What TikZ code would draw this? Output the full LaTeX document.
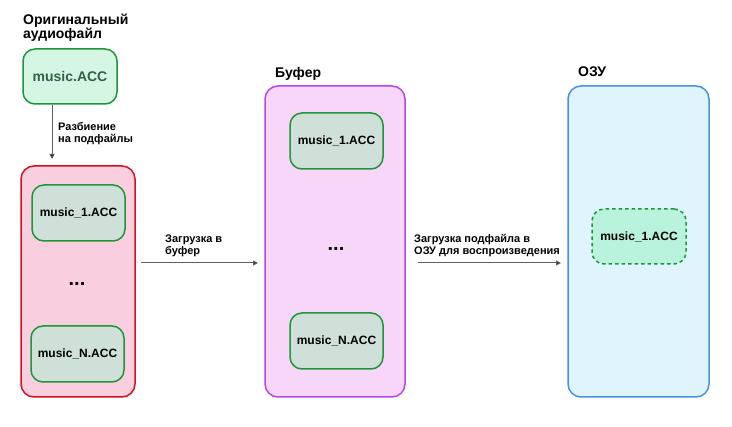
\documentclass[tikz,border=0pt]{standalone}
\usepackage{fontspec}
\setmainfont{Liberation Sans}
\usetikzlibrary{arrows.meta}
\definecolor{gstroke}{RGB}{30,150,55}
\definecolor{gfill}{RGB}{213,246,226}
\definecolor{gtext}{RGB}{55,95,70}
\definecolor{ifill}{RGB}{206,224,215}
\definecolor{rstroke}{RGB}{208,18,32}
\definecolor{rfill}{RGB}{249,207,223}
\definecolor{pstroke}{RGB}{180,70,240}
\definecolor{pfill}{RGB}{248,214,250}
\definecolor{bstroke}{RGB}{74,144,226}
\definecolor{bfill}{RGB}{223,244,252}
\definecolor{dfill}{RGB}{185,242,221}
\definecolor{agray}{RGB}{95,95,95}
\tikzset{
  container/.style={draw, line width=1.5pt, rounded corners=13pt},
  filebox/.style={draw=gstroke, line width=1.5pt, rounded corners=12pt, fill=ifill,
    font=\bfseries\fontsize{12}{14}\selectfont, align=center},
  title/.style={anchor=north west, font=\bfseries\fontsize{14}{16}\selectfont, align=left, inner sep=0pt},
  lbl/.style={anchor=south west, font=\bfseries\fontsize{11}{13}\selectfont, align=left, inner sep=0pt},
  dots/.style={font=\bfseries\fontsize{20}{20}\selectfont},
  conn/.style={draw=agray, line width=1pt, -{Triangle[length=5pt,width=5pt,fill=black]}}
}
\begin{document}
\begin{tikzpicture}[x=1pt,y=-1pt]
\useasboundingbox (0,0) rectangle (732,427);
% original
\node[title] (t0) at (23,14) {Оригинальный\\[-2pt]аудиофайл};
\node[draw=gstroke, fill=gfill, line width=1.5pt, rounded corners=12pt, minimum width=94pt, minimum height=55pt,
  font=\bfseries\fontsize{14}{16}\selectfont, text=gtext] (orig) at (70,76.5) {music.ACC};
% red container
\node[container, draw=rstroke, fill=rfill, minimum width=114pt, minimum height=231pt] (src) at (78,281.5) {};
\node[filebox, minimum width=93pt, minimum height=56pt] (s1) at (78.5,213) {music\_1.ACC};
\node[dots] (sd) at (77,284) {...};
\node[filebox, minimum width=93pt, minimum height=56pt] (sN) at (77.5,354) {music\_N.ACC};
% buffer
\node[title] (t1) at (275,67) {Буфер};
\node[container, draw=pstroke, fill=pfill, minimum width=140pt, minimum height=311pt] (buf) at (335,241.5) {};
\node[filebox, minimum width=93pt, minimum height=56pt] (b1) at (336.5,141) {music\_1.ACC};
\node[dots] (bd) at (336,249) {...};
\node[filebox, minimum width=93pt, minimum height=56pt] (bN) at (336.5,341) {music\_N.ACC};
% RAM
\node[title] (t2) at (578,67) {ОЗУ};
\node[container, draw=bstroke, fill=bfill, minimum width=141pt, minimum height=311pt] (ram) at (638.5,241.5) {};
\node[draw=gstroke, fill=dfill, line width=1.5pt, rounded corners=12pt, dash pattern=on 3.5pt off 3pt,
  minimum width=94pt, minimum height=55pt, font=\bfseries\fontsize{12}{14}\selectfont] (r1) at (639,236.5) {music\_1.ACC};
% connectors
\coordinate (a0) at (52,107);
\coordinate (a1) at (52,159);
\draw[conn] (orig.south -| a0) -- (a1);
\node[lbl] (l0) at (58,145) {Разбиение\\[-1pt]на подфайлы};
\draw[conn] (src.east |- 0,263) ++(5,0) -- (258,263);
\node[lbl] (l1) at (165,257) {Загрузка в\\[-1pt]буфер};
\draw[conn] (buf.east |- 0,263) ++(12,0) -- (561,263);
\node[lbl] (l2) at (414,257) {Загрузка подфайла в\\[-1pt]ОЗУ для воспроизведения};
\end{tikzpicture}
\end{document}
